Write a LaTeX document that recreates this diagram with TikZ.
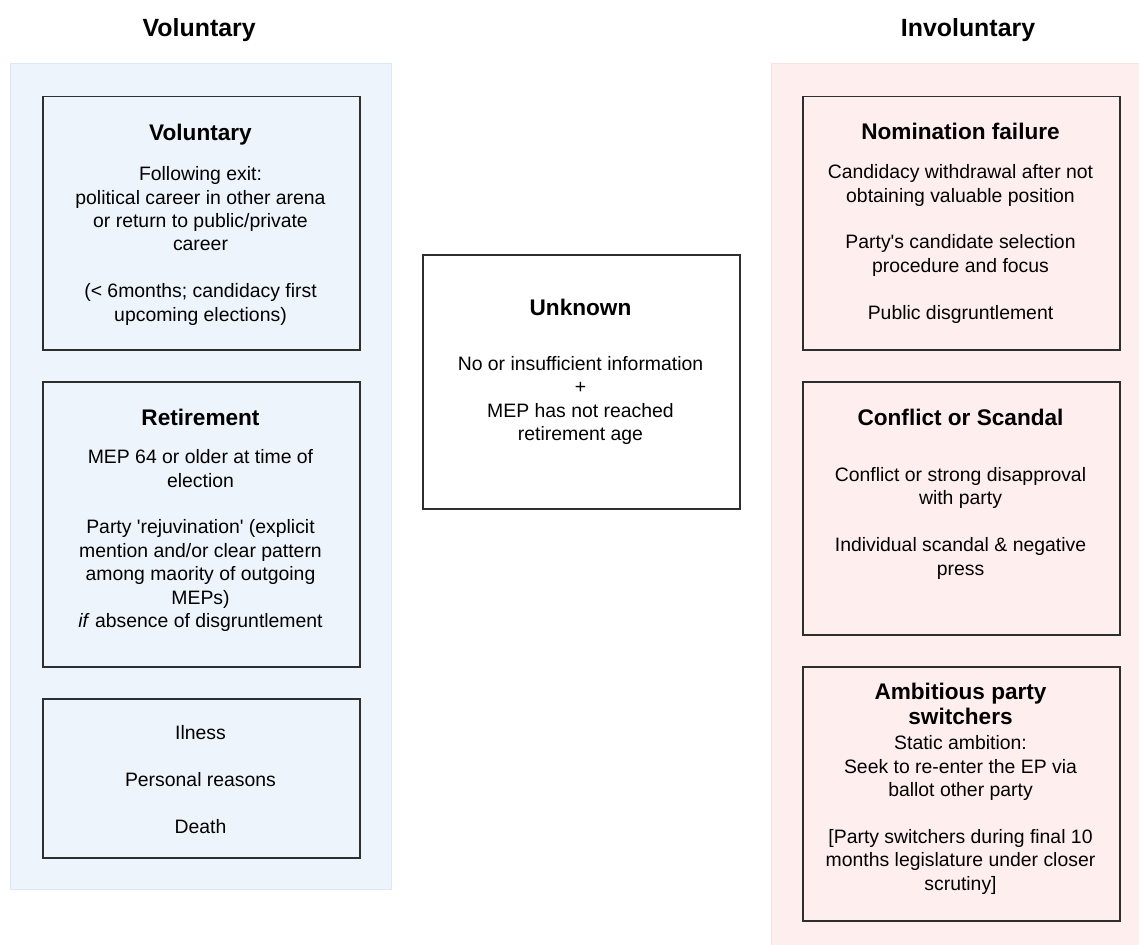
\documentclass[tikz,border=0pt]{standalone}
\usepackage{fontspec}
\setmainfont{Liberation Sans}
\newfontfamily\diagfont{Liberation Sans}
\definecolor{volfill}{HTML}{EEF4FB}
\definecolor{volline}{HTML}{DCE8F5}
\definecolor{invfill}{HTML}{FFEEEE}
\definecolor{invline}{HTML}{FBE0E0}
\definecolor{boxline}{HTML}{2E2E2E}
% multi-line text nodes are placed by the baseline of their last line
\tikzset{
  panel/.style={draw=#1line, fill=#1fill, line width=0.8pt, inner sep=0pt,
    anchor=north west, minimum width=381pt},
  reason/.style={draw=boxline, line width=1.5pt, inner sep=0pt,
    anchor=north west, minimum width=317pt, minimum height=#1},
  sidetitle/.style={font=\diagfont\fontsize{24.9}{28}\selectfont\bfseries,
    anchor=base, inner sep=0pt},
  heading/.style={font=\diagfont\fontsize{22.6}{25}\selectfont\bfseries,
    align=center, anchor=base, inner sep=0pt},
  body/.style={font=\diagfont\fontsize{19.4}{23.4}\selectfont,
    align=center, anchor=base, inner sep=0pt},
}
\begin{document}
\begin{tikzpicture}[x=1pt, y=-1pt]
\useasboundingbox (0,0) rectangle (1139,944);
\clip (0,0) rectangle (1139,944);
\fill[white] (0,0) rectangle (1139,944);

% column titles
\node[sidetitle] (voltitle) at (199.2,37) {Voluntary};
\node[sidetitle] (invtitle) at (968,37) {Involuntary};

% coloured column panels
\node[panel=vol, minimum height=825.5pt] (volpanel) at (10,63.5) {};
\node[panel=inv, minimum height=900pt] (invpanel) at (771,63.5) {};

% voluntary reasons
\node[reason=253pt] (volbox) at (42,96) {};
\node[heading] (volhead) at (200.5,141) {Voluntary};
\node[body] (voltext) at (200.5,321) {Following exit:\\political career in other arena\\or return to public/private\\career\\[23.4pt](< 6months; candidacy first\\upcoming elections)};

\node[reason=285pt] (retbox) at (42,381) {};
\node[heading] (rethead) at (200.5,425.7) {Retirement};
\node[body] (rettext) at (200.5,627.5) {MEP 64 or older at time of\\election\\[23.4pt]Party \textquotesingle rejuvination\textquotesingle{} (explicit\\mention and/or clear pattern\\among maority of outgoing\\MEPs)\\\textit{if} absence of disgruntlement};

\node[reason=159pt] (persbox) at (42,698) {};
\node[body] (perstext) at (200.5,833.3) {Ilness\\[23.4pt]Personal reasons\\[23.4pt]Death};

% unknown
\node[reason=254pt, fill=white] (unkbox) at (422,254) {};
\node[heading] (unkhead) at (580.5,315) {Unknown};
\node[body] (unktext) at (580.5,440.5) {No or insufficient information\\+\\MEP has not reached\\retirement age};

% involuntary reasons
\node[reason=253pt] (nombox) at (802,96) {};
\node[heading] (nomhead) at (960.5,140) {Nomination failure};
\node[body] (nomtext) at (960.5,319) {Candidacy withdrawal after not\\obtaining valuable position\\[23.4pt]Party\textquotesingle s candidate selection\\procedure and focus\\[23.4pt]Public disgruntlement};

\node[reason=253pt] (conbox) at (802,381) {};
\node[heading] (conhead) at (960.5,425.7) {Conflict or Scandal};
\node[body] (context) at (960.5,575) {Conflict or strong disapproval\\with party\\[23.4pt]Individual scandal \& negative\\press};

\node[reason=254pt] (swbox) at (802,666) {};
\node[heading] (swhead) at (960.5,724) {Ambitious party\\switchers};
\node[body] (swtext) at (960.5,890) {Static ambition:\\Seek to re-enter the EP via\\ballot other party\\[23.4pt]{[}Party switchers during final 10\\months legislature under closer\\scrutiny]};
\end{tikzpicture}
\end{document}
